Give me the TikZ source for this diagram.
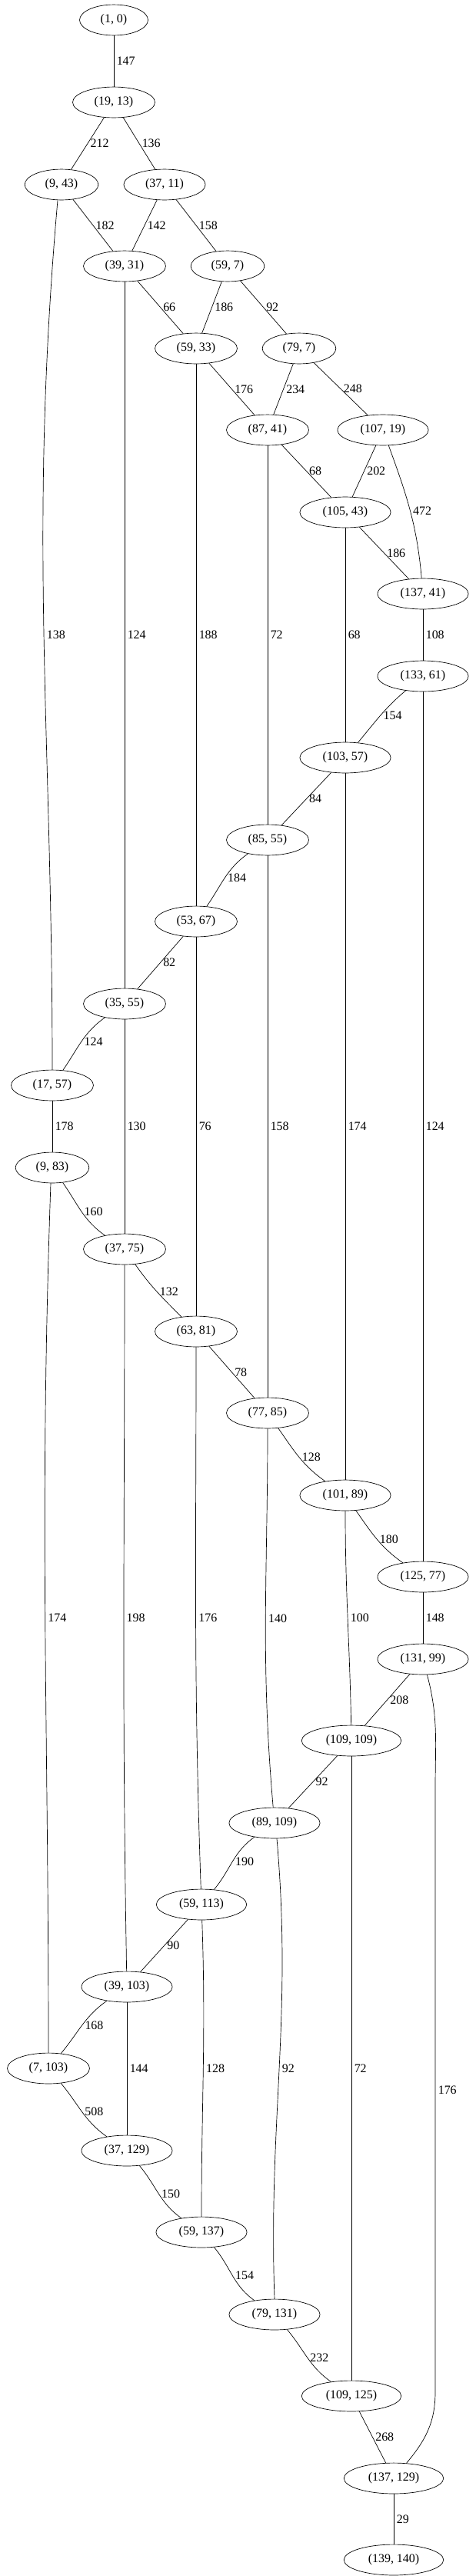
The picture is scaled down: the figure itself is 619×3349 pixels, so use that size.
\documentclass[tikz,border=0pt]{standalone}
\usepackage{fontspec}
\setmainfont{Liberation Serif}
\usetikzlibrary{shapes.geometric}

\tikzset{
	pt/.style={draw, ellipse, inner xsep=11pt, inner ysep=2pt, minimum width=78pt, minimum height=35pt, font=\fontsize{14}{16}\selectfont},
	lbl/.style={right, inner sep=3pt, font=\fontsize{14}{16}\selectfont}
}

\begin{document}
\begin{tikzpicture}[x=0.877pt, y=-0.877pt, line width=0.6pt]
		\useasboundingbox (0,0) rectangle (619,3349);
		
		%Nodes
		\node[pt] (1-0)     at (148,26)   {(1, 0)};
		\node[pt] (19-13)   at (148,133)  {(19, 13)};
		\node[pt] (9-43)    at (80,240)   {(9, 43)};
		\node[pt] (37-11)   at (214,240)  {(37, 11)};
		\node[pt] (39-31)   at (162,346)  {(39, 31)};
		\node[pt] (59-7)    at (296,346)  {(59, 7)};
		\node[pt] (59-33)   at (255,453)  {(59, 33)};
		\node[pt] (79-7)    at (389,453)  {(79, 7)};
		\node[pt] (87-41)   at (348,559)  {(87, 41)};
		\node[pt] (107-19)  at (498,559)  {(107, 19)};
		\node[pt] (105-43)  at (449,666)  {(105, 43)};
		\node[pt] (137-41)  at (550,772)  {(137, 41)};
		\node[pt] (133-61)  at (550,879)  {(133, 61)};
		\node[pt] (103-57)  at (449,985)  {(103, 57)};
		\node[pt] (85-55)   at (348,1092) {(85, 55)};
		\node[pt] (53-67)   at (255,1198) {(53, 67)};
		\node[pt] (35-55)   at (162,1305) {(35, 55)};
		\node[pt] (17-57)   at (68,1411)  {(17, 57)};
		\node[pt] (9-83)    at (68,1518)  {(9, 83)};
		\node[pt] (37-75)   at (162,1624) {(37, 75)};
		\node[pt] (63-81)   at (255,1731) {(63, 81)};
		\node[pt] (77-85)   at (348,1837) {(77, 85)};
		\node[pt] (101-89)  at (449,1944) {(101, 89)};
		\node[pt] (125-77)  at (550,2050) {(125, 77)};
		\node[pt] (131-99)  at (550,2157) {(131, 99)};
		\node[pt] (109-109) at (457,2263) {(109, 109)};
		\node[pt] (89-109)  at (357,2370) {(89, 109)};
		\node[pt] (59-113)  at (262,2476) {(59, 113)};
		\node[pt] (39-103)  at (165,2583) {(39, 103)};
		\node[pt] (7-103)   at (63,2689)  {(7, 103)};
		\node[pt] (37-129)  at (165,2796) {(37, 129)};
		\node[pt] (59-137)  at (262,2902) {(59, 137)};
		\node[pt] (79-131)  at (357,3009) {(79, 131)};
		\node[pt] (109-125) at (457,3115) {(109, 125)};
		\node[pt] (137-129) at (512,3222) {(137, 129)};
		\node[pt] (139-140) at (512,3328) {(139, 140)};
		\coordinate (c1) at (566,2325);
		\coordinate (c2) at (566,3110);
		
		%Lines
		\draw (1-0) -- node[lbl] {147} (19-13);
		\draw (19-13) -- node[lbl] {212} (9-43);
		\draw (19-13) -- node[lbl] {136} (37-11);
		\draw (9-43) -- node[lbl] {182} (39-31);
		\draw (9-43.south) ++(-5,0) to[out=-95,in=90] node[lbl] {138} (17-57.north);
		\draw (37-11) -- node[lbl] {142} (39-31);
		\draw (37-11) -- node[lbl] {158} (59-7);
		\draw (39-31) -- node[lbl] {66} (59-33);
		\draw (39-31) -- node[lbl] {124} (35-55);
		\draw (59-7) -- node[lbl] {186} (59-33);
		\draw (59-7) -- node[lbl] {92} (79-7);
		\draw (59-33) -- node[lbl] {176} (87-41);
		\draw (59-33) -- node[lbl] {188} (53-67);
		\draw (79-7) -- node[lbl] {234} (87-41);
		\draw (79-7) -- node[lbl] {248} (107-19);
		\draw (87-41) -- node[lbl] {68} (105-43);
		\draw (87-41) -- node[lbl] {72} (85-55);
		\draw (107-19) -- node[lbl] {202} (105-43);
		\draw (107-19) to[out=-70,in=95] node[lbl] {472} (137-41);
		\draw (105-43) -- node[lbl] {186} (137-41);
		\draw (105-43) -- node[lbl] {68} (103-57);
		\draw (137-41) -- node[lbl] {108} (133-61);
		\draw (133-61) to[out=-140,in=50] node[lbl] {154} (103-57);
		\draw (133-61) -- node[lbl] {124} (125-77);
		\draw (103-57) -- node[lbl] {84} (85-55);
		\draw (103-57) -- node[lbl] {174} (101-89);
		\draw (85-55) to[out=-145,in=55] node[lbl] {184} (53-67);
		\draw (85-55) -- node[lbl] {158} (77-85);
		\draw (53-67) -- node[lbl] {82} (35-55);
		\draw (53-67) -- node[lbl] {76} (63-81);
		\draw (35-55) to[out=-145,in=55] node[lbl] {124} (17-57);
		\draw (35-55) -- node[lbl] {130} (37-75);
		\draw (17-57) -- node[lbl] {178} (9-83);
		\draw (9-83) to[out=-55,in=145] node[lbl] {160} (37-75);
		\draw (9-83.south) ++(-2,0) to[out=-92,in=90] node[lbl] {174} (7-103.north);
		\draw (37-75) to[out=-55,in=135] node[lbl] {132} (63-81);
		\draw (37-75) to[out=-90,in=91] node[lbl] {198} (39-103);
		\draw (63-81) -- node[lbl] {78} (77-85);
		\draw (63-81) to[out=-90,in=92] node[lbl] {176} (59-113);
		\draw (77-85) to[out=-55,in=145] node[lbl] {128} (101-89);
		\draw (77-85) to[out=-90,in=95] node[lbl] {140} (89-109);
		\draw (101-89) to[out=-55,in=145] node[lbl] {180} (125-77);
		\draw (101-89) to[out=-90,in=91] node[lbl] {100} (109-109);
		\draw (125-77) -- node[lbl] {148} (131-99);
		\draw (131-99) -- node[lbl] {208} (109-109);
		\draw (131-99) to[out=-75,in=90] (c1) -- node[lbl] {176} (c2) to[out=-90,in=50] (137-129);
		\draw (109-109) -- node[lbl] {92} (89-109);
		\draw (109-109) -- node[lbl] {72} (109-125);
		\draw (89-109) to[out=-145,in=50] node[lbl] {190} (59-113);
		\draw (89-109.south) ++(3,0) to[out=-85,in=92] node[lbl] {92} (79-131.north);
		\draw (59-113) -- node[lbl] {90} (39-103);
		\draw (59-113) to[out=-88,in=90] node[lbl] {128} (59-137);
		\draw (39-103) to[out=-145,in=50] node[lbl] {168} (7-103);
		\draw (39-103) -- node[lbl] {144} (37-129);
		\draw (7-103) to[out=-50,in=145] node[lbl] {508} (37-129);
		\draw (37-129) to[out=-50,in=145] node[lbl] {150} (59-137);
		\draw (59-137) to[out=-50,in=145] node[lbl] {154} (79-131);
		\draw (79-131) to[out=-50,in=145] node[lbl] {232} (109-125);
		\draw (109-125) -- node[lbl] {268} (137-129);
		\draw (137-129) -- node[lbl] {29} (139-140);
	\end{tikzpicture}
\end{document}
